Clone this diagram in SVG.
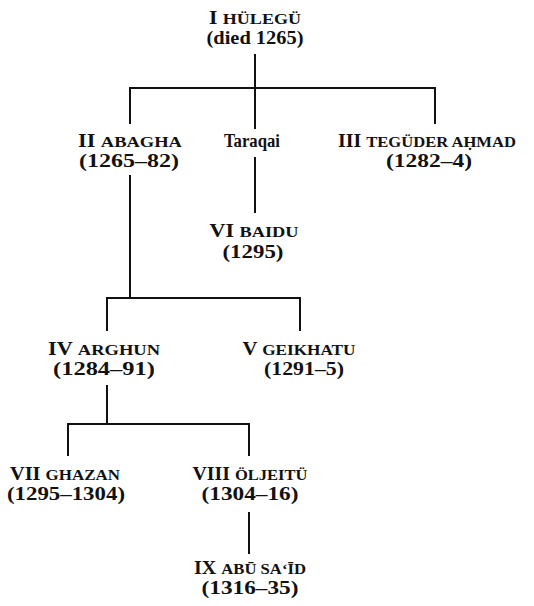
<svg xmlns="http://www.w3.org/2000/svg" width="534" height="606" viewBox="0 0 534 606">
<style>
text{font-family:"Liberation Serif","Times New Roman",serif;font-weight:bold;fill:#111;text-anchor:middle;font-size:18px}
.sc{font-size:15px}
.c line{stroke:#111;stroke-width:2;stroke-linecap:square}
</style>
<rect width="534" height="606" fill="#fff"/>
<g class="c" id="connectors">
<line x1="255" y1="55" x2="255" y2="128"/>
<line x1="130" y1="88" x2="435" y2="88"/>
<line x1="130" y1="88" x2="130" y2="123"/>
<line x1="435" y1="88" x2="435" y2="123"/>
<line x1="255" y1="158" x2="255" y2="212"/>
<line x1="130" y1="176" x2="130" y2="298"/>
<line x1="107" y1="298" x2="300" y2="298"/>
<line x1="107" y1="298" x2="107" y2="330"/>
<line x1="300" y1="298" x2="300" y2="330"/>
<line x1="107" y1="386" x2="107" y2="424"/>
<line x1="68" y1="424" x2="249" y2="424"/>
<line x1="68" y1="424" x2="68" y2="455"/>
<line x1="249" y1="424" x2="249" y2="455"/>
<line x1="249" y1="513" x2="249" y2="553"/>
</g>
<g id="hulegu">
<text x="255" y="24" textLength="92" lengthAdjust="spacingAndGlyphs">I <tspan class="sc">HÜLEGÜ</tspan></text>
<text x="255" y="44" textLength="97" lengthAdjust="spacingAndGlyphs">(died 1265)</text>
</g>
<g id="abagha">
<text x="130" y="147" textLength="104" lengthAdjust="spacingAndGlyphs">II  <tspan class="sc">ABAGHA</tspan></text>
<text x="129" y="167" textLength="100" lengthAdjust="spacingAndGlyphs">(1265–82)</text>
</g>
<g id="taraqai">
<text x="252" y="147" textLength="56" lengthAdjust="spacingAndGlyphs">Taraqai</text>
</g>
<g id="teguder">
<text x="427" y="147" textLength="178" lengthAdjust="spacingAndGlyphs">III  <tspan class="sc">TEGÜDER AḤMAD</tspan></text>
<text x="429" y="167" textLength="86" lengthAdjust="spacingAndGlyphs">(1282–4)</text>
</g>
<g id="baidu">
<text x="254" y="237" textLength="89" lengthAdjust="spacingAndGlyphs">VI  <tspan class="sc">BAIDU</tspan></text>
<text x="253" y="258" textLength="61" lengthAdjust="spacingAndGlyphs">(1295)</text>
</g>
<g id="arghun">
<text x="104" y="355" textLength="112" lengthAdjust="spacingAndGlyphs">IV  <tspan class="sc">ARGHUN</tspan></text>
<text x="104" y="375" textLength="102" lengthAdjust="spacingAndGlyphs">(1284–91)</text>
</g>
<g id="geikhatu">
<text x="299" y="355" textLength="113" lengthAdjust="spacingAndGlyphs">V  <tspan class="sc">GEIKHATU</tspan></text>
<text x="304" y="375" textLength="80" lengthAdjust="spacingAndGlyphs">(1291–5)</text>
</g>
<g id="ghazan">
<text x="65" y="480" textLength="110" lengthAdjust="spacingAndGlyphs">VII <tspan class="sc">GHAZAN</tspan></text>
<text x="66" y="500" textLength="118" lengthAdjust="spacingAndGlyphs">(1295–1304)</text>
</g>
<g id="oljeitu">
<text x="250" y="480" textLength="115" lengthAdjust="spacingAndGlyphs">VIII <tspan class="sc">ÖLJEITÜ</tspan></text>
<text x="250" y="500" textLength="97" lengthAdjust="spacingAndGlyphs">(1304–16)</text>
</g>
<g id="abusaid">
<text x="250" y="574" textLength="112" lengthAdjust="spacingAndGlyphs">IX <tspan class="sc">ABŪ SA‘ĪD</tspan></text>
<text x="250" y="594" textLength="97" lengthAdjust="spacingAndGlyphs">(1316–35)</text>
</g>
</svg>
